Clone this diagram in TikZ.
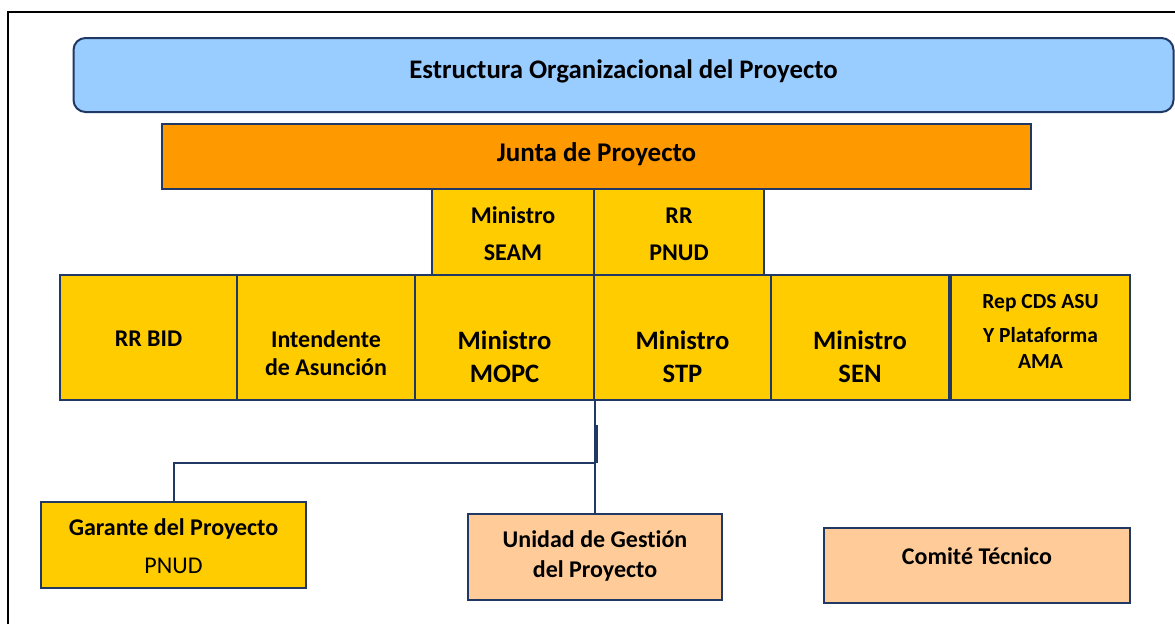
\documentclass[tikz,border=0pt]{standalone}
\usepackage{fontspec}
\setmainfont{Carlito}[Ligatures=NoCommon]
\definecolor{navy}{HTML}{1F3864}
\definecolor{skyb}{HTML}{99CCFF}
\definecolor{orng}{HTML}{FF9900}
\definecolor{yell}{HTML}{FFCC00}
\definecolor{peach}{HTML}{FFCC99}
\newcommand{\fs}[1]{\fontsize{#1}{#1}\selectfont}
\newcommand{\tx}[2]{\makebox[0pt]{\raisebox{#1}[0pt][0pt]{\parbox[t]{700pt}{\centering #2}}}}
\begin{document}
\begin{tikzpicture}[x=1pt,y=-1pt,
  box/.style={draw=navy, line width=2pt, rectangle, inner sep=0pt, text=black, font=\bfseries\fs{24}},
  ybox/.style={box, fill=yell},
  pbox/.style={box, fill=peach},
  conn/.style={draw=navy, line width=2pt}]
\path[use as bounding box, fill=white] (0,0) rectangle (1175,624);
\draw[black, line width=2pt] (8,624) -- (8,12) -- (1175,12);
\node[box, fill=skyb, rounded corners=12pt, minimum width=1100, minimum height=74, font=\bfseries\fs{26.8}] (title) at (623.5,75) {\tx{-3.6pt}{Estructura Organizacional del Proyecto}};
\node[box, fill=orng, minimum width=869, minimum height=65, font=\bfseries\fs{27}] (junta) at (596.5,156.5) {\tx{-5pt}{Junta de Proyecto}};
\node[ybox, minimum width=162, minimum height=86] (seam) at (513,232) {\tx{8.3pt}{Ministro\\[13pt]SEAM}};
\node[ybox, minimum width=170, minimum height=86] (pnud) at (679,232) {\tx{8.3pt}{RR\\[13pt]PNUD}};
\node[ybox, minimum width=177, minimum height=125] (rrbid) at (148.5,337.5) {\tx{-9.2pt}{RR BID}};
\node[ybox, minimum width=178, minimum height=125] (inten) at (326,337.5) {\tx{-10.2pt}{Intendente\\[4pt]de Asunción}};
\node[ybox, minimum width=179, minimum height=125, font=\bfseries\fs{26.6}] (mopc) at (504.5,337.5) {\tx{-12pt}{Ministro\\[6.4pt]MOPC}};
\node[ybox, minimum width=177, minimum height=125, font=\bfseries\fs{26.6}] (stp) at (682.5,337.5) {\tx{-12pt}{Ministro\\[6.4pt]STP}};
\node[ybox, minimum width=178, minimum height=125, font=\bfseries\fs{26.6}] (sen) at (860,337.5) {\tx{-12pt}{Ministro\\[6.4pt]SEN}};
\node[ybox, minimum width=179, minimum height=125, font=\bfseries\fs{21.5}] (rep) at (1040.5,337.5) {\tx{29.5pt}{Rep CDS ASU\\[12.5pt]Y Plataforma\\[4.5pt]AMA}};
\node[ybox, minimum width=265, minimum height=86] (garante) at (173.5,545) {\tx{9.3pt}{Garante del Proyecto\\[14pt]{\mdseries PNUD}}};
\node[pbox, minimum width=254, minimum height=86] (unidad) at (595,557) {\tx{9.3pt}{Unidad de Gestión\\[6pt]del Proyecto}};
\node[pbox, minimum width=306, minimum height=75] (comite) at (977,565.5) {\tx{1.5pt}{Comité Técnico}};
\coordinate (j) at (593,463);
\draw[conn] (mopc.south east) -- (mopc.south east |- unidad.north);
\draw[conn] (mopc.south east |- j) -| (garante.north);
\draw[conn] ([xshift=2pt]mopc.south east |- 0,425) -- ([xshift=2pt]mopc.south east |- j);
\end{tikzpicture}
\end{document}
